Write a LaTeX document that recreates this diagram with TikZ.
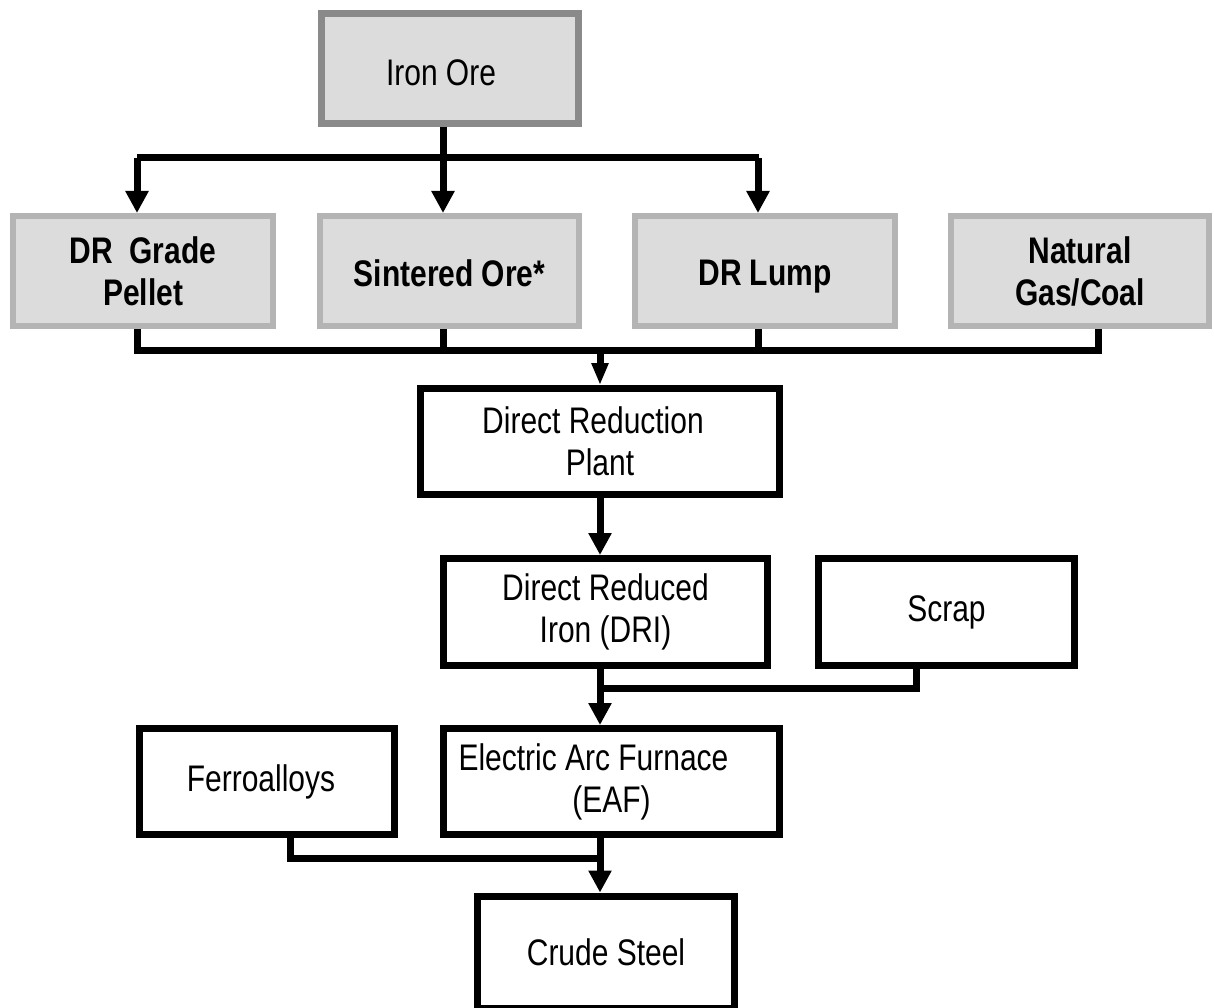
\documentclass[tikz,border=0pt]{standalone}
\usepackage{fontspec}
\setmainfont{Liberation Sans}[FakeStretch=0.81]
\usetikzlibrary{arrows.meta}
\definecolor{boxfill}{HTML}{DCDCDC}
\definecolor{oreline}{HTML}{8A8A8A}
\definecolor{feedline}{HTML}{B4B4B4}
\tikzset{
  txt/.style={align=center, font=\fontsize{37}{42}\selectfont, inner sep=0pt},
  orebox/.style={txt, draw=oreline, fill=boxfill, line width=7pt},
  feedbox/.style={txt, draw=feedline, fill=boxfill, line width=6pt, font=\fontsize{37}{42}\selectfont\bfseries},
  procbox/.style={txt, draw=black, fill=white, line width=7pt},
  link/.style={line width=7pt, draw=black},
  arr/.style={link, -{Triangle[length=22pt,width=22pt]}},
  arrsmall/.style={link, -{Triangle[length=22pt,width=16pt]}}
}
% lower a label inside its box without changing the box's reported size
\newcommand{\lowered}[2]{\raisebox{-#1}[\height][\depth]{#2}}
\begin{document}
\begin{tikzpicture}[x=1pt,y=-1pt]
\useasboundingbox[fill=white] (0,0) rectangle (1214,1008);

% raw material
\node[orebox, minimum width=257pt, minimum height=110pt] (ore) at (450,68.5) {\lowered{4pt}{Iron Ore}\hspace*{18pt}};

% feed materials
\node[feedbox, minimum width=260pt, minimum height=110pt] (pellet) at (143,271) {DR\hspace{0.45em}Grade\\Pellet};
\node[feedbox, minimum width=259pt, minimum height=110pt] (sinter) at (449.5,271) {\lowered{2pt}{Sintered Ore*}};
\node[feedbox, minimum width=260pt, minimum height=110pt] (lump) at (765,271) {\lowered{6pt}{DR Lump}};
\node[feedbox, minimum width=258pt, minimum height=110pt] (gas) at (1080,271) {Natural\\Gas/Coal};

% process chain
\node[procbox, minimum width=359pt, minimum height=106pt] (drp) at (600,441.5) {Direct Reduction\hspace*{14pt}\\Plant};
\node[procbox, minimum width=324pt, minimum height=107pt] (dri) at (605.5,612) {Direct Reduced\\Iron (DRI)};
\node[procbox, minimum width=256pt, minimum height=107pt] (scrap) at (946.5,612) {Scrap};
\node[procbox, minimum width=336pt, minimum height=106pt] (eaf) at (611.5,781.5) {Electric Arc Furnace\hspace*{36pt}\\(EAF)};
\node[procbox, minimum width=255pt, minimum height=106pt] (ferro) at (267,781.5) {Ferroalloys\hspace*{12pt}};
\node[procbox, minimum width=257pt, minimum height=112pt] (steel) at (606,952) {Crude Steel};

% junction points
\coordinate (split) at (443,158);
\coordinate (merge) at (600,350);
\coordinate (scrapjoin) at (600,688);
\coordinate (ferrojoin) at (600,858);

% iron ore split into the feed materials
\draw[link] ([xshift=-7pt]ore.south) -- (split);
\draw[link] ([xshift=-6pt]pellet.north |- split) -- (split) -- ([xshift=-6pt]lump.north |- split);
\draw[arr] ([xshift=-6pt]pellet.north |- split) -- ([xshift=-6pt]pellet.north);
\draw[arr] (split) -- ([xshift=-6.5pt]sinter.north);
\draw[arr] ([xshift=-7pt]lump.north |- split) -- ([xshift=-7pt]lump.north);

% feed materials collected into the plant
\draw[link] ([xshift=-6pt]pellet.south) |- ([xshift=18pt]gas.south |- merge) -- ([xshift=18pt]gas.south);
\draw[link] ([xshift=-6.5pt]sinter.south) -- ([xshift=-6.5pt]sinter.south |- merge);
\draw[link] ([xshift=-7pt]lump.south) -- ([xshift=-7pt]lump.south |- merge);
\draw[arrsmall] (merge) -- (drp.north);

% plant to steel
\draw[arr] (drp.south) -- (drp.south |- dri.north);
\draw[link] ([xshift=-30.5pt]scrap.south) |- (scrapjoin);
\draw[arr] ([xshift=-5.5pt]dri.south) -- ([xshift=-5.5pt]dri.south |- eaf.north);
\draw[link] ([xshift=23pt]ferro.south) |- (ferrojoin);
\draw[arr] ([xshift=-11.5pt]eaf.south) -- ([xshift=-11.5pt]eaf.south |- steel.north);
\end{tikzpicture}
\end{document}
